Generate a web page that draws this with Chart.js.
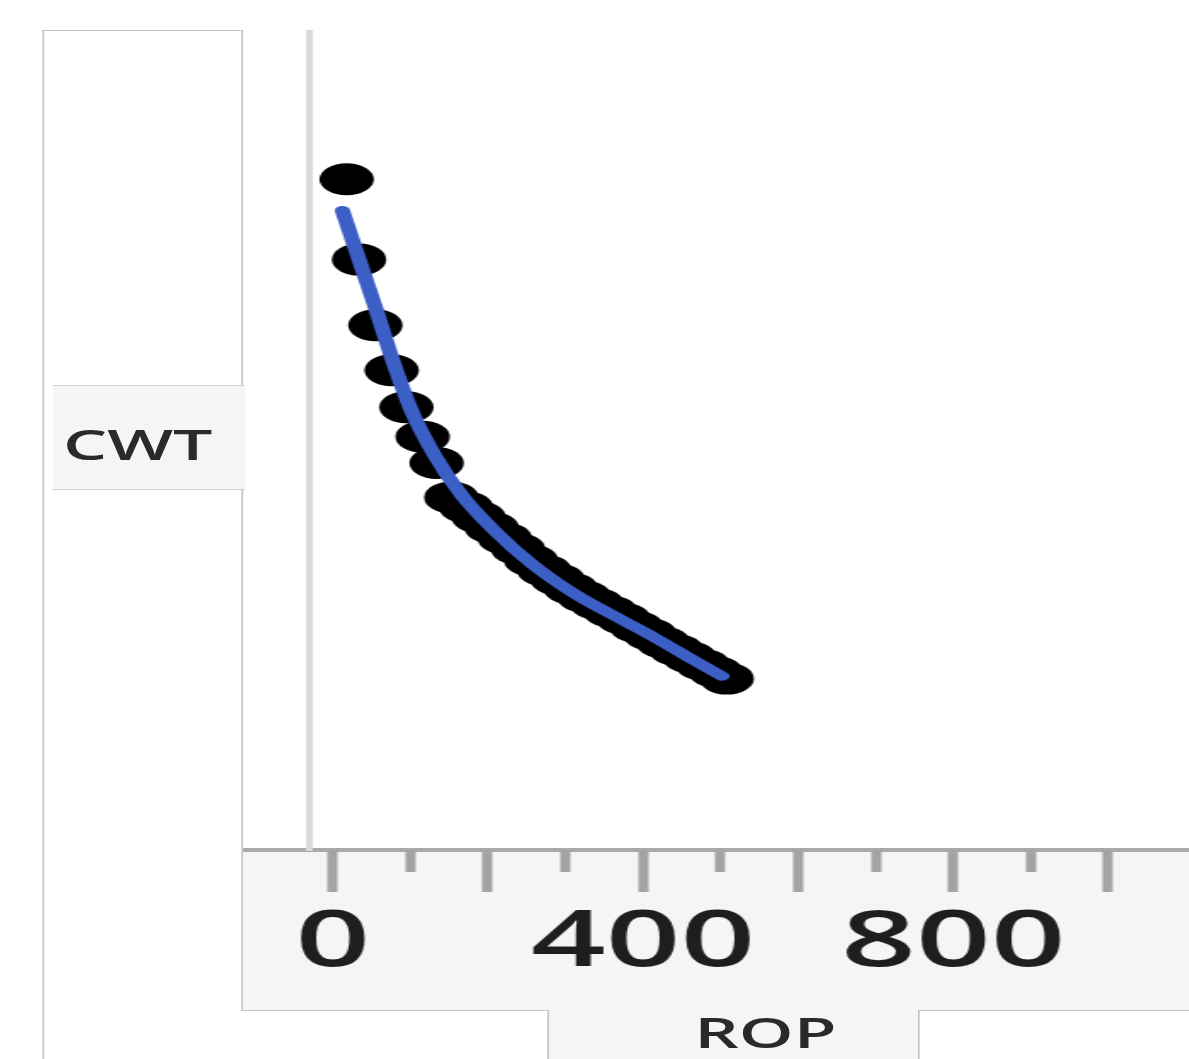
<!DOCTYPE html>
<html>
<head>
<meta charset="utf-8">
<title>CWT vs ROP</title>
<script src="https://cdn.jsdelivr.net/npm/chart.js@4.4.1/dist/chart.umd.min.js"></script>
<style>
  html, body { margin: 0; padding: 0; background: #fff; overflow: hidden; width: 1189px; height: 1059px; }
  /* the reference is stretched sideways, so the whole page is drawn narrow and scaled */
  #stage { position: absolute; left: 0; top: 0; width: 700px; height: 1059px;
           transform: scaleX(1.7); transform-origin: 0 0; font-family: "Open Sans", sans-serif; }
  .frame { position: absolute; left: 24.7px; top: 30px; width: 700px; height: 1100px;
           border-left: 1px solid #c4c4c4; border-top: 1px solid #c4c4c4; }
  .panel { position: absolute; left: 142.4px; top: 30px; width: 600px; height: 980px;
           border-left: 1px solid #c4c4c4; border-bottom: 1px solid #c4c4c4; background: #fff; }
  .strip { position: absolute; left: 143.4px; top: 848px; width: 600px; height: 158px;
           background: #f5f5f5; border-top: 4px solid #a9a9a9; }
  .ropBox { position: absolute; left: 322.4px; top: 1010px; width: 218.8px; height: 60px; box-sizing: border-box;
            background: #f5f5f5; border-left: 1px solid #c4c4c4; border-right: 1px solid #c4c4c4; }
  .cwtBox { position: absolute; left: 30.6px; top: 385px; width: 113px; height: 105px; box-sizing: border-box;
            background: #f5f5f5; border-top: 1px solid #d2d2d2; border-bottom: 1px solid #d2d2d2; }
  .lbl { position: absolute; font-size: 41px; line-height: 41px; color: #2a2a2a; white-space: nowrap; font-weight: 600; }
  #plot { position: absolute; left: 142.4px; top: 30px; width: 551px; height: 980px; }
</style>
</head>
<body>
<div id="stage">
  <div class="frame"></div>
  <div class="panel"></div>
  <div class="strip"></div>
  <div class="ropBox"><span class="lbl" style="left:85px; top:2px;">ROP</span></div>
  <div class="cwtBox"><span class="lbl" style="left:6.5px; top:38px;">CWT</span></div>
  <div id="plot"><canvas id="chart"></canvas></div>
</div>
<script>
    // Puntos medidos (ROP, CWT)
    const rop = [18, 34, 55, 76, 95, 116, 134, 153, 172, 188, 205, 222, 239, 256, 273, 290,
                 307, 324, 341, 358, 375, 392, 409, 426, 443, 460, 477, 494, 508];
    const cwt = [81.8, 72.0, 64.0, 58.5, 54.0, 50.4, 47.2, 43.0, 41.8, 40.6, 39.3, 38.0, 36.7, 35.3, 34.1, 33.0,
                 31.9, 30.9, 30.0, 29.1, 28.2, 27.2, 26.3, 25.3, 24.4, 23.5, 22.6, 21.7, 20.9];

    // Curva ajustada (azul)
    const fitRop = [12.5, 34, 56, 77, 101, 131, 166, 208, 258, 311, 364, 417, 466, 502];
    const fitCwt = [78.0, 72.0, 65.9, 59.8, 53.7, 48.2, 43.3, 39.0, 34.8, 31.3, 28.5, 25.8, 23.1, 21.2];

    // Etiquetas visibles del eje X
    const xTickLabels = [0, 400, 800];

    // Quitar el relleno automático que Chart.js añade a los ejes
    function noPadding(s) {
        s.paddingLeft = 0; s.paddingRight = 0; s.paddingTop = 0; s.paddingBottom = 0;
    }

    const ctx = document.getElementById('chart').getContext('2d');
    const chart = new Chart(ctx, {
        type: 'scatter',
        data: {
            datasets: [{
                type: 'line',
                label: 'Fit',
                data: fitRop.map((x, i) => ({ x: x, y: fitCwt[i] })),
                borderColor: '#3b5fc4',
                borderWidth: 9,
                borderCapStyle: 'round',
                pointRadius: 0,
                cubicInterpolationMode: 'monotone',
                order: 0
            }, {
                label: 'CWT',
                data: rop.map((x, i) => ({ x: x, y: cwt[i] })),
                backgroundColor: '#000',
                borderColor: '#000',
                borderWidth: 0,
                pointRadius: 16,
                order: 1
            }]
        },
        options: {
            responsive: true,
            maintainAspectRatio: false,
            animation: false,
            layout: { padding: 0, autoPadding: false },
            plugins: { legend: { display: false }, tooltip: { enabled: false } },
            scales: {
                x: {
                    type: 'linear',
                    min: -30,
                    max: 1090,
                    border: { display: false },
                    grid: {
                        drawOnChartArea: false,
                        drawTicks: true,
                        tickLength: 42,
                        tickWidth: 6,
                        tickColor: '#a3a3a3',
                        // marcas cortas cada 100, largas cada 200
                        tickBorderDash: (c) => (c.tick && c.tick.value % 200 !== 0) ? [22, 200] : []
                    },
                    ticks: {
                        stepSize: 100,
                        autoSkip: false,
                        maxRotation: 0,
                        includeBounds: false,
                        padding: 6,
                        color: '#1e1e1e',
                        font: { family: 'Open Sans', size: 77, weight: '600' },
                        callback: (v) => xTickLabels.includes(v) ? String(v) : ''
                    },
                    afterFit: (s) => { s.height = 160; noPadding(s); }
                },
                y: {
                    min: 0,
                    max: 100,
                    ticks: { display: false },
                    grid: { display: false },
                    border: { color: '#d9d9d9', width: 4 },
                    afterFit: (s) => { s.width = 40; noPadding(s); }
                }
            }
        }
    });
</script>
</body>
</html>
